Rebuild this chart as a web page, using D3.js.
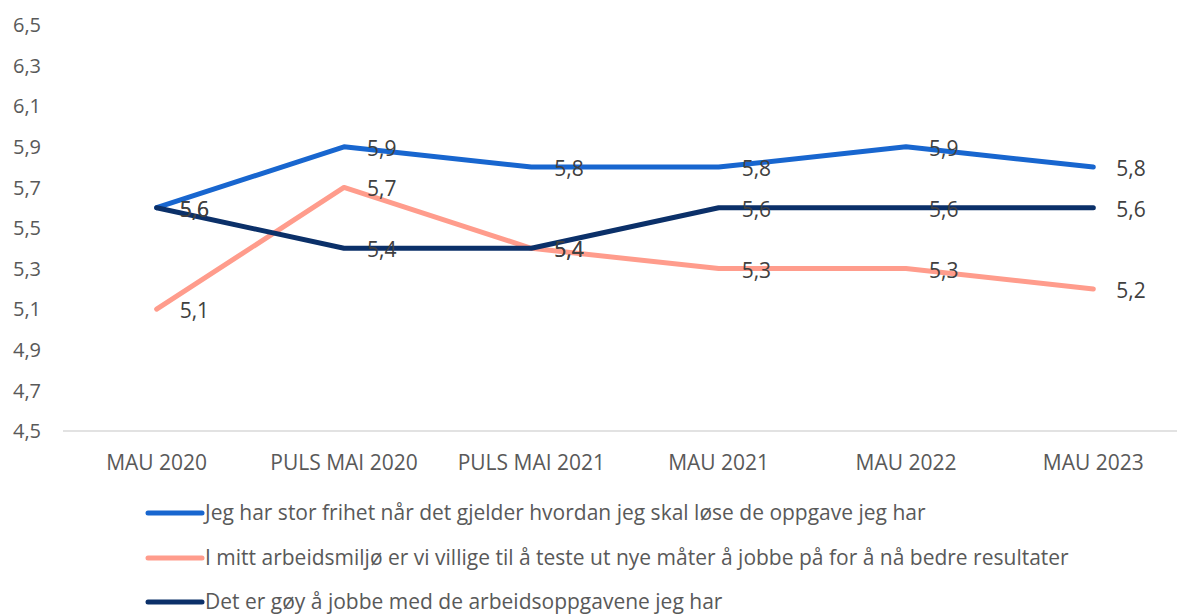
<!DOCTYPE html>
<html><head><meta charset="utf-8">
<script src="https://cdnjs.cloudflare.com/ajax/libs/d3/7.8.5/d3.min.js"></script>
<style>body{margin:0;background:#fff}svg{display:block}text{font-family:"Open Sans",Lato,sans-serif}</style>
</head><body>
<script>
const categories = ["MAU 2020","PULS MAI 2020","PULS MAI 2021","MAU 2021","MAU 2022","MAU 2023"];
const seriesNames = [
  "Jeg har stor frihet når det gjelder hvordan jeg skal løse de oppgave jeg har",
  "I mitt arbeidsmiljø er vi villige til å teste ut nye måter å jobbe på for å nå bedre resultater",
  "Det er gøy å jobbe med de arbeidsoppgavene jeg har"
];
const frihetValues = [5.6, 5.9, 5.8, 5.8, 5.9, 5.8];
const villigeValues = [5.1, 5.7, 5.4, 5.3, 5.3, 5.2];
const goyValues = [5.6, 5.4, 5.4, 5.6, 5.6, 5.6];
const yTicks = [4.5, 4.7, 4.9, 5.1, 5.3, 5.5, 5.7, 5.9, 6.1, 6.3, 6.5];
const colors = ["#1866CF", "#FF9C8C", "#0B3069"];

const series = [frihetValues, villigeValues, goyValues].map((v, i) => ({name: seriesNames[i], values: v, color: colors[i]}));

const W = 1177, H = 615;
const FS = 21;
const svg = d3.select("body").append("svg").attr("width", W).attr("height", H);
const loc = d3.formatLocale({decimal: ",", thousands: " ", grouping: [3], currency: ["", ""]});
const fmt = loc.format(".1f");

const x = d3.scaleBand().domain(categories).range([63, 1187]);
const y = d3.scaleLinear().domain([4.5, 6.5]).range([431, 25]);
const cx = c => x(c) + x.bandwidth() / 2;

// axis line
svg.append("line").attr("x1", 63).attr("x2", W).attr("y1", y(4.5)).attr("y2", y(4.5))
  .attr("stroke", "#d9d9d9").attr("stroke-width", 1.3);

// y labels
svg.append("g").selectAll("text").data(yTicks).join("text")
  .attr("x", 41).attr("y", d => y(d)).attr("dy", "0.36em")
  .attr("text-anchor", "end").attr("fill", "#595959").attr("font-size", 20)
  .text(d => fmt(d));

// x labels
svg.append("g").selectAll("text").data(categories).join("text")
  .attr("x", d => cx(d)).attr("y", 462).attr("dy", "0.36em")
  .attr("text-anchor", "middle").attr("fill", "#595959").attr("font-size", FS)
  .text(d => d);

const line = d3.line().x((d, i) => cx(categories[i])).y(d => y(d));
svg.append("g").selectAll("path").data(series).join("path")
  .attr("d", d => line(d.values)).attr("fill", "none")
  .attr("stroke", d => d.color).attr("stroke-width", 5)
  .attr("stroke-linecap", "round").attr("stroke-linejoin", "round");

// data labels
series.forEach(s => {
  svg.append("g").selectAll("text").data(s.values).join("text")
    .attr("x", (d, i) => cx(categories[i]) + 23).attr("y", d => y(d) + 1.5).attr("dy", "0.36em")
    .attr("fill", "#404040").attr("font-size", FS)
    .text(d => fmt(d));
});

// legend
const legY = [513, 558, 602];
const lg = svg.append("g").selectAll("g").data(series).join("g")
  .attr("transform", (d, i) => `translate(0,${legY[i]})`);
lg.append("line").attr("x1", 148).attr("x2", 202).attr("y1", 0).attr("y2", 0)
  .attr("stroke", d => d.color).attr("stroke-width", 5).attr("stroke-linecap", "round");
lg.append("text").attr("x", 205).attr("y", 0).attr("dy", "0.33em")
  .attr("fill", "#595959").attr("font-size", FS).text(d => d.name);
</script>
</body></html>
